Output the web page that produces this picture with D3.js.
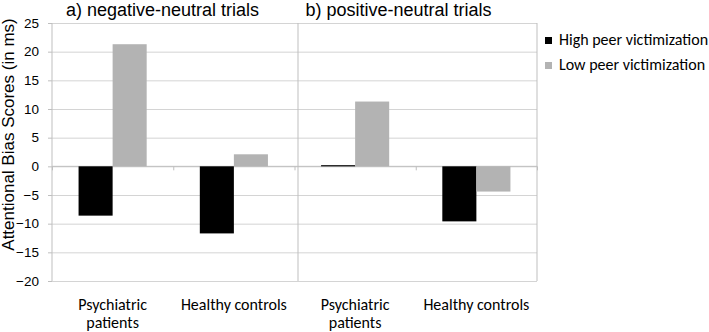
<!DOCTYPE html>
<html>
<head>
<meta charset="utf-8">
<script src="https://cdn.jsdelivr.net/npm/d3@7"></script>
<style>
  body { margin: 0; background: #fff; }
  svg text { fill: #000; }
</style>
</head>
<body>
<div id="chart"></div>
<script>

      // data
      var panels = ["a) negative-neutral trials", "b) positive-neutral trials"];
      var groups = ["Psychiatric patients", "Healthy controls"];
      var series = ["High peer victimization", "Low peer victimization"];
      var highValues = [-8.6, -11.7, 0.2, -9.6];
      var lowValues = [21.3, 2.1, 11.3, -4.4];
      var yTicks = [25, 20, 15, 10, 5, 0, -5, -10, -15, -20];
      var groupLabels = [["Psychiatric", "patients"], ["Healthy controls"]];

      var colors = ["#000000", "#b3b3b3"];

      var margin = {top: 23, right: 172, bottom: 51, left: 52};

      var width = 709 - margin.left - margin.right,
          height = 332 - margin.top - margin.bottom;

      var canvas = d3.select("#chart").append("svg")
                .attr("width", 709)
                .attr("height", 332)
                .append("g")
                .attr("transform", "translate(" + margin.left + "," + margin.top + ")");

      // one slot per panel/group pair
      var slots = [];
      panels.forEach(function(p, pi) {
          groups.forEach(function(g, gi) {
              slots.push({panel: pi, group: gi, key: pi + "-" + gi});
          });
      });

      ////// Define Scales /////////////////
      var xScale = d3.scaleBand()
          .domain(slots.map(function(d) { return d.key; }))
          .range([0, width]);

      var xInner = d3.scaleBand()
          .domain(series)
          .range([0, xScale.bandwidth()])
          .paddingOuter(0.78);

      var yScale = d3.scaleLinear()
          .domain([-20, 25])
          .range([height, 0]);

      // grid
      var yAxisGrid = d3.axisLeft().scale(yScale).tickSize(-width).tickFormat('').tickValues(yTicks);
      canvas.append('g')
        .attr('class', 'y axis-grid')
        .call(yAxisGrid)
        .call(function(g) {
            g.select(".domain").remove();
            g.selectAll("line").attr("stroke", "#d4d4d4");
        });

      // y axis line + labels
      var yAxis = d3.axisLeft().scale(yScale).tickValues(yTicks).tickSize(4).tickPadding(9);
      canvas.append("g")
          .attr("class", "y axis")
          .call(yAxis)
          .call(function(g) {
              g.select(".domain").attr("stroke", "#bfbfbf").attr("d", "M0,0V" + height);
              g.selectAll("line").attr("stroke", "#bfbfbf");
              g.selectAll("text")
                .attr("font-family", "Liberation Sans, Arial, sans-serif")
                .attr("font-size", "13.5px")
                .attr("fill", "#000");
          });

      // right border and panel divider
      canvas.append("line")
          .attr("x1", width).attr("x2", width)
          .attr("y1", 0).attr("y2", height)
          .attr("stroke", "#bfbfbf");

      var divX = xScale("1-0") + 3.5;
      canvas.append("line")
          .attr("x1", divX).attr("x2", divX)
          .attr("y1", 0).attr("y2", height)
          .attr("stroke", "#bfbfbf");

      // zero axis with category ticks
      var xAxis = d3.axisBottom()
          .scale(d3.scaleLinear().domain([0, slots.length]).range([0, width]))
          .ticks(slots.length).tickSize(4).tickFormat('');
      canvas.append("g")
          .attr("class", "x axis")
          .attr("transform", "translate(0," + yScale(0) + ")")
          .call(xAxis)
          .call(function(g) {
              g.select(".domain").attr("stroke", "#bfbfbf").attr("d", "M0,0H" + width);
              g.selectAll("line").attr("stroke", "#bfbfbf");
          });

      // bars
      var barData = [];
      slots.forEach(function(s, i) {
          barData.push({slot: s.key, s: series[0], v: highValues[i], c: colors[0]});
          barData.push({slot: s.key, s: series[1], v: lowValues[i], c: colors[1]});
      });

      canvas.append("g")
          .attr("id", "rects")
          .selectAll(".bar")
          .data(barData)
          .enter()
          .append("rect")
          .attr("class", "bar")
          .attr("x", function(d) {
             return xScale(d.slot) + xInner(d.s);
          })
          .attr("width", xInner.bandwidth())
          .attr("y", function(d) {
              return yScale(Math.max(0, d.v));
          })
          .attr("height", function(d) {
              return Math.abs(yScale(d.v) - yScale(0));
          })
          .attr("fill", function(d) { return d.c; });

      // panel titles
      canvas.selectAll(".ptitle")
          .data(panels)
          .enter()
          .append("text")
          .attr("class", "ptitle")
          .attr("x", function(d, i) { return i == 0 ? 14 : divX + 7.5; })
          .attr("y", -7)
          .attr("font-family", "Liberation Sans, Arial, sans-serif")
          .attr("font-size", "18px")
          .text(function(d) { return d; });

      // category labels
      slots.forEach(function(s) {
          var lines = groupLabels[s.group];
          var t = canvas.append("text")
              .attr("x", xScale(s.key) + xScale.bandwidth() / 2)
              .attr("y", height + 29)
              .attr("text-anchor", "middle")
              .attr("font-family", "Carlito, Lato, sans-serif")
              .attr("font-size", "16px");
          lines.forEach(function(l, li) {
              t.append("tspan")
                .attr("x", xScale(s.key) + xScale.bandwidth() / 2)
                .attr("dy", li == 0 ? 0 : 18)
                .text(l);
          });
      });

      // y label
      canvas.append("text")
          .attr("transform", "rotate(-90)")
          .attr("x", -111.5)
          .attr("y", -38)
          .attr("text-anchor", "middle")
          .attr("font-family", "Liberation Sans, Arial, sans-serif")
          .attr("font-size", "17px")
          .text("Attentional Bias Scores (in ms)");

      // legend
      var legend = canvas.append("g")
          .attr("transform", "translate(" + (width + 8) + ",14)");
      series.forEach(function(s, i) {
          var row = legend.append("g").attr("transform", "translate(0," + (i * 25) + ")");
          row.append("rect")
              .attr("width", 7).attr("height", 7)
              .attr("y", 0)
              .attr("fill", colors[i]);
          row.append("text")
              .attr("x", 14)
              .attr("y", 8)
              .attr("font-family", "Carlito, Lato, sans-serif")
              .attr("font-size", "16px")
              .text(s);
      });

</script>
</body>
</html>
